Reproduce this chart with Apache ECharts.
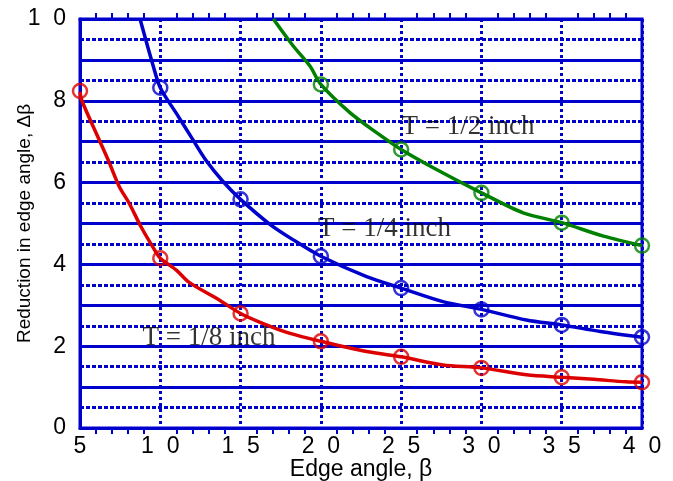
<!DOCTYPE html>
<html>
<head>
<meta charset="utf-8">
<script src="https://cdn.jsdelivr.net/npm/echarts@6/dist/echarts.min.js"></script>
<style>
  html, body { margin: 0; padding: 0; background: #fff; }
  #chart { width: 673px; height: 481px; }
</style>
</head>
<body>
<div id="chart"></div>
<script>
// T = 1/8 inch (red)
var redX = [5, 5.1, 6.2, 6.8, 7.45, 8.07, 8.8, 9.53, 10, 11, 11.8, 13.67, 15, 16.37, 18.03, 20, 22.85, 25, 27.6, 30, 32.8, 35, 37, 39, 40];
var redY = [8.22, 8.02, 7.04, 6.51, 5.9, 5.49, 4.92, 4.43, 4.15, 3.86, 3.56, 3.13, 2.8, 2.56, 2.32, 2.12, 1.87, 1.74, 1.54, 1.47, 1.3, 1.24, 1.19, 1.13, 1.12];
// T = 1/4 inch (blue)
var blueX = [8.74, 9.56, 10, 11.12, 11.95, 12.89, 13.92, 15, 16.83, 18.28, 20, 22.85, 25, 27.6, 30, 32.8, 35, 37.4, 40];
var blueY = [10, 8.85, 8.32, 7.62, 7.1, 6.52, 6.02, 5.59, 4.98, 4.6, 4.2, 3.7, 3.42, 3.09, 2.9, 2.64, 2.52, 2.36, 2.22];
// T = 1/2 inch (green)
var greenX = [17.04, 18.28, 19.32, 20, 21.81, 23.47, 25, 27.2, 30, 32.6, 35, 37.6, 40];
var greenY = [10, 9.34, 8.85, 8.4, 7.71, 7.22, 6.81, 6.32, 5.75, 5.26, 5.02, 4.69, 4.46];

// circle markers every 5 degrees
var redMarkX = [5, 10, 15, 20, 25, 30, 35, 40];
var redMarkY = [8.24, 4.15, 2.8, 2.12, 1.74, 1.47, 1.24, 1.12];
var blueMarkX = [10, 15, 20, 25, 30, 35, 40];
var blueMarkY = [8.32, 5.59, 4.2, 3.42, 2.9, 2.52, 2.22];
var greenMarkX = [20, 25, 30, 35, 40];
var greenMarkY = [8.4, 6.81, 5.75, 5.02, 4.46];

// curve labels: [x, y, text]
var labels = [
    [25.03, 7.36, 'T = 1/2 inch'],
    [19.82, 4.87, 'T = 1/4 inch'],
    [8.9, 2.2, 'T = 1/8 inch']
];

var gridBlue = '#0000cc';

function pairs(xs, ys) {
    return xs.map(function (x, i) { return [x, ys[i]]; });
}
function spaced(v) {
    return String(v).split('').join('  ');
}

function lineSeries(name, xs, ys, color) {
    return {
        name: name,
        type: 'line',
        data: pairs(xs, ys),
        showSymbol: false,
        smooth: 0.3,
        lineStyle: { color: color, width: 3.5 },
        z: 3
    };
}
function markSeries(xs, ys, color) {
    return {
        type: 'scatter',
        data: pairs(xs, ys),
        symbol: 'circle',
        symbolSize: 14,
        itemStyle: { color: 'rgba(0,0,0,0)', borderColor: color, borderWidth: 2.5 },
        clip: false,
        z: 4
    };
}

var chart = echarts.init(document.getElementById('chart'));
var option = {
    animation: false,
    backgroundColor: '#fff',
    grid: {
        left: 80, right: 31, top: 19, bottom: 53,
        outerBoundsMode: 'none',
        containLabel: false,
        show: true, borderColor: gridBlue, borderWidth: 3
    },
    xAxis: [{
        type: 'value',
        min: 5, max: 40, interval: 5,
        name: 'Edge angle, β',
        nameLocation: 'middle',
        nameGap: 30,
        nameMoveOverlap: false,
        nameTextStyle: { fontFamily: 'Liberation Sans', fontSize: 23, color: '#000' },
        axisLine: { show: true, lineStyle: { color: gridBlue, width: 3 } },
        axisTick: { show: false },
        minorTick: { show: true, splitNumber: 5, length: 6, lineStyle: { color: gridBlue, width: 2 } },
        axisLabel: {
            margin: 7,
            fontFamily: 'Liberation Sans', fontSize: 23, color: '#000',
            formatter: spaced
        },
        splitLine: { show: true, lineStyle: { color: gridBlue, width: 3, type: [3, 3] } }
    }, {
        type: 'value',
        position: 'top',
        min: 5, max: 40, interval: 5,
        axisLine: { show: true, lineStyle: { color: gridBlue, width: 3 } },
        axisTick: { show: false },
        minorTick: { show: true, splitNumber: 5, length: 6, lineStyle: { color: gridBlue, width: 2 } },
        axisLabel: { show: false },
        splitLine: { show: false }
    }],
    yAxis: {
        type: 'value',
        min: 0, max: 10, interval: 1,
        name: 'Reduction in edge angle, Δβ',
        nameLocation: 'middle',
        nameGap: 46,
        nameMoveOverlap: false,
        nameTextStyle: { fontFamily: 'Liberation Sans', fontSize: 19, color: '#000' },
        axisLine: { show: true, lineStyle: { color: gridBlue, width: 3 } },
        axisTick: { show: false },
        minorTick: { show: false, splitNumber: 2 },
        minorSplitLine: { show: true, lineStyle: { color: gridBlue, width: 3, type: [4, 2] } },
        axisLabel: {
            margin: 14,
            fontFamily: 'Liberation Sans', fontSize: 23, color: '#000',
            formatter: function (v) { return v % 2 === 0 ? spaced(v) : ''; }
        },
        splitLine: { show: true, lineStyle: { color: gridBlue, width: 3 } }
    },
    series: [
        lineSeries('T = 1/8 inch', redX, redY, '#dd0000'),
        lineSeries('T = 1/4 inch', blueX, blueY, '#0000cc'),
        lineSeries('T = 1/2 inch', greenX, greenY, '#008000'),
        markSeries(redMarkX, redMarkY, '#dd0000'),
        markSeries(blueMarkX, blueMarkY, '#0000cc'),
        markSeries(greenMarkX, greenMarkY, '#008000'),
        {
            type: 'scatter',
            data: labels,
            symbolSize: 0,
            z: 5,
            label: {
                show: true,
                position: [0, 0],
                align: 'left',
                verticalAlign: 'middle',
                fontFamily: 'Liberation Serif',
                fontSize: 27,
                color: '#000',
                formatter: function (p) { return p.data[2]; }
            }
        }
    ]
};
chart.setOption(option);
</script>
</body>
</html>
